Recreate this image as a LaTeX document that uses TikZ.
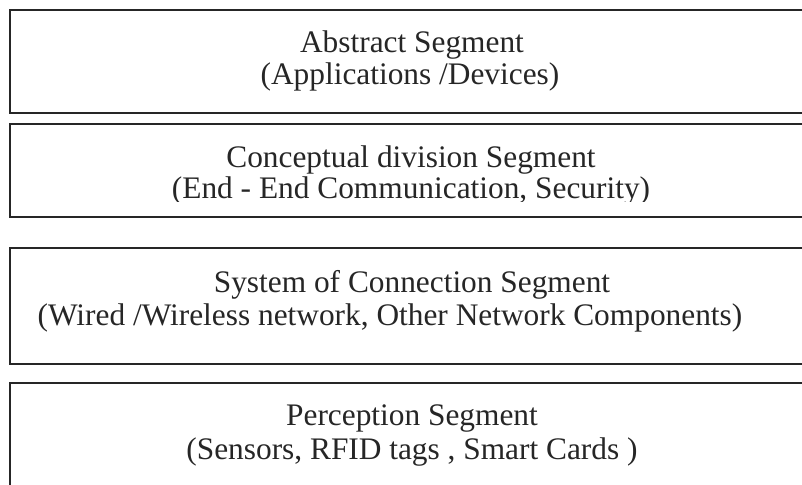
\documentclass[tikz,border=0pt]{standalone}
\usepackage{fontspec}
\setmainfont{Liberation Serif}
\usepackage{tikz}
\tikzset{seg box/.style={draw=black!85,line width=1.3pt},
         seg text/.style={anchor=base,inner sep=0pt,font=\fontsize{22.3}{25}\selectfont,text=black!85},
            }

\begin{document}
\begin{tikzpicture}[x=0.025cm,y=-0.025cm]
    \clip (0,0) rectangle (802,485);
    \fill[white] (0,0) rectangle (802,485);

    \draw[seg box] (10,10) rectangle (820,113);
    \draw[seg box] (10,124) rectangle (820,217);
    \draw[seg box] (10,248) rectangle (820,364);
    \draw[seg box] (10,383) rectangle (820,500);

    \node[seg text] (1a) at (412,53) {Abstract Segment};
    \node[seg text] (1b) at (410,85) {(Applications /Devices)};

    \node[seg text] (2a) at (411,167) {Conceptual division Segment};
    \begin{scope}
        \clip (0,0) rectangle (802,202);
        \node[seg text] (2b) at (411,199) {(End - End Communication, Security)};
    \end{scope}

    \node[seg text] (3a) at (412,292) {System of Connection Segment};
    \node[seg text] (3b) at (390,325) {(Wired /Wireless network, Other Network Components)};

    \node[seg text] (4a) at (412,425) {Perception Segment};
    \node[seg text] (4b) at (412,459) {(Sensors, RFID tags , Smart Cards )};
\end{tikzpicture}
\end{document}
